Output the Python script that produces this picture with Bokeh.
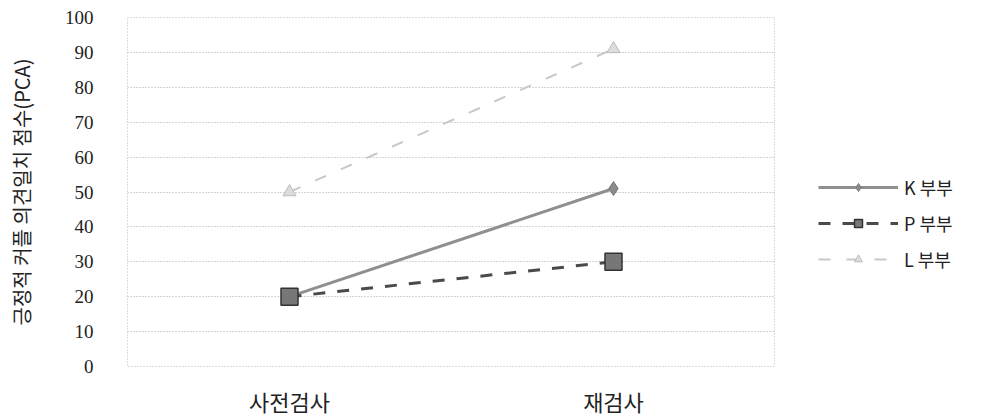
from bokeh.plotting import figure
from bokeh.models import Legend, LegendItem, Range1d, FactorRange
from bokeh.layouts import row
from bokeh.embed import file_html
from bokeh.resources import INLINE

categories = ["사전검사", "재검사"]
k_values = [20, 51]
p_values = [20, 30]
l_values = [50, 91]
series_names = ["K 부부", "P 부부", "L 부부"]
y_ticks = [0, 10, 20, 30, 40, 50, 60, 70, 80, 90, 100]

KR = "Noto Sans CJK KR"

K_STYLE = dict(line=dict(line_color="#8f8f8f", line_width=3),
               mark=dict(marker="diamond", size=14, fill_color="#8a8a8a", line_color="#777777"))
P_STYLE = dict(line=dict(line_color="#4a4a4a", line_width=3, line_dash="12 12"),
               mark=dict(marker="square", size=17, fill_color="#777777", line_color="#333333", line_width=1.5))
L_STYLE = dict(line=dict(line_color="#c8c8c8", line_width=2, line_dash="12 16"),
               mark=dict(marker="triangle", size=13, fill_color="#dddddd", line_color="#bbbbbb"))

p = figure(x_range=FactorRange(*categories), y_range=Range1d(0, 100),
           width=775, height=419, output_backend="svg", toolbar_location=None,
           min_border_left=127, min_border_right=0, min_border_top=17, min_border_bottom=51)
p.outline_line_color = "#bbbbbb"
p.outline_line_dash = "1 2"

p.yaxis.ticker = y_ticks
p.ygrid.grid_line_color = "#aaaaaa"
p.ygrid.grid_line_dash = "1 2"
p.xgrid.grid_line_color = None
p.yaxis.axis_line_color = None
p.xaxis.axis_line_color = None
p.yaxis.major_tick_line_color = None
p.yaxis.minor_tick_line_color = None
p.xaxis.major_tick_line_color = None
p.yaxis.major_label_text_font = "Liberation Serif"
p.yaxis.major_label_text_font_size = "19px"
p.yaxis.major_label_text_color = "#222222"
p.yaxis.major_label_standoff = 28
p.xaxis.major_label_text_font = KR
p.xaxis.major_label_text_font_size = "22px"
p.xaxis.major_label_text_color = "#222222"
p.xaxis.major_label_standoff = 12
p.yaxis.axis_label = "긍정적 커플 의견일치 점수(PCA)"
p.yaxis.axis_label_text_font = KR
p.yaxis.axis_label_text_font_size = "20px"
p.yaxis.axis_label_text_font_style = "normal"
p.yaxis.axis_label_text_color = "#222222"
p.yaxis.axis_label_standoff = 26

series = [(k_values, K_STYLE), (p_values, P_STYLE), (l_values, L_STYLE)]
for vals, st in series:
    p.line(categories, vals, **st["line"])
    p.scatter(categories, vals, **st["mark"])

# legend panel (same series, drawn out of view; only the legend shows)
lf = figure(width=210, height=419, output_backend="svg", toolbar_location=None,
            x_range=FactorRange(*categories), y_range=Range1d(1000, 1001),
            min_border=0, x_axis_type=None, y_axis_type=None)
lf.outline_line_color = None
lf.grid.visible = False
items = []
for name, (vals, st) in zip(series_names, series):
    r1 = lf.line(categories, vals, **st["line"])
    r2 = lf.scatter(categories, vals, **st["mark"])
    items.append(LegendItem(label=name, renderers=[r1, r2]))

legend = Legend(items=items, location=(43, 94), border_line_color=None,
                background_fill_alpha=0,
                label_text_font=KR, label_text_font_size="18px", label_text_color="#222222",
                glyph_width=80, glyph_height=20, spacing=10, label_standoff=6,
                margin=0, padding=0)
lf.add_layout(legend, "center")

open("out.html", "w").write(file_html(row(p, lf), INLINE))
